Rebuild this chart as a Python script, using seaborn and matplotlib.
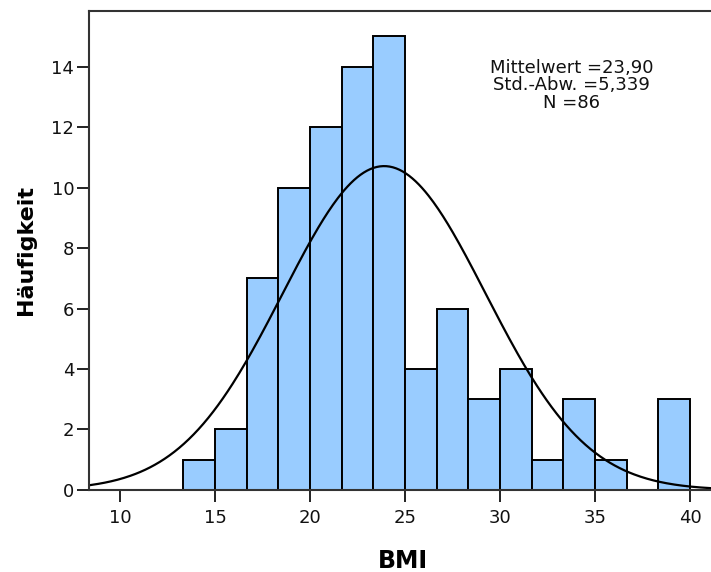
import numpy as np
import pandas as pd
import matplotlib
matplotlib.use("Agg")
import matplotlib.pyplot as plt
import seaborn as sns

# Data
bin_counts = [1, 2, 7, 10, 12, 14, 15, 4, 6, 3, 4, 1, 3, 1, 0, 3]
bin_start = 13.3333
bin_width = 5.0 / 3.0
mean_val = 23.90
std_val = 5.339
n_val = 86
x_ticks = [10, 15, 20, 25, 30, 35, 40]
y_ticks = [0, 2, 4, 6, 8, 10, 12, 14]

sns.set_theme(style="white")
plt.rcParams['font.family'] = ['DejaVu Sans']

edges = bin_start + bin_width * np.arange(len(bin_counts) + 1)
centers = (edges[:-1] + edges[1:]) / 2
df = pd.DataFrame({"BMI": centers, "count": bin_counts})

fig = plt.figure(figsize=(7.11, 5.72), dpi=100)
ax = fig.add_axes([0.1252, 0.1434, 0.8748, 0.8374])

sns.histplot(data=df, x="BMI", weights="count", binwidth=bin_width,
             binrange=(float(edges[0]), float(edges[-1])), ax=ax,
             color="#99CCFF", edgecolor="black", linewidth=1.4, alpha=1.0)

xs = np.linspace(8.0, 42.0, 400)
ys = n_val * bin_width * np.exp(-0.5 * ((xs - mean_val) / std_val) ** 2) / (std_val * np.sqrt(2 * np.pi))
sns.lineplot(x=xs, y=ys, ax=ax, color="black", linewidth=1.6)

ax.set_xlim(8.37, 41.1)
ax.set_ylim(0, 15.84)
ax.set_xticks(x_ticks)
ax.set_yticks(y_ticks)
ax.tick_params(axis="both", which="major", direction="out", length=8.6, width=1.4,
               color="#222222", labelsize=13, labelcolor="#111111", bottom=True, left=True)
ax.tick_params(axis="x", pad=5)
ax.tick_params(axis="y", pad=2)
for s in ["left", "bottom", "top"]:
    ax.spines[s].set_color("#333333")
    ax.spines[s].set_linewidth(1.5)
ax.spines["right"].set_visible(False)

ax.set_xlabel("BMI", fontsize=17, fontweight="bold", color="black")
ax.set_ylabel("Häufigkeit", fontsize=16, fontweight="bold", color="black")
ax.xaxis.set_label_coords(0.505, -0.124)
ax.yaxis.set_label_coords(-0.086, 0.5)

ax.text(0.776, 0.845, "Mittelwert =23,90\nStd.-Abw. =5,339\nN =86",
        transform=ax.transAxes, ha="center", va="center", fontsize=13,
        linespacing=0.95, color="#111111")

fig.savefig("out.png", dpi=100)
